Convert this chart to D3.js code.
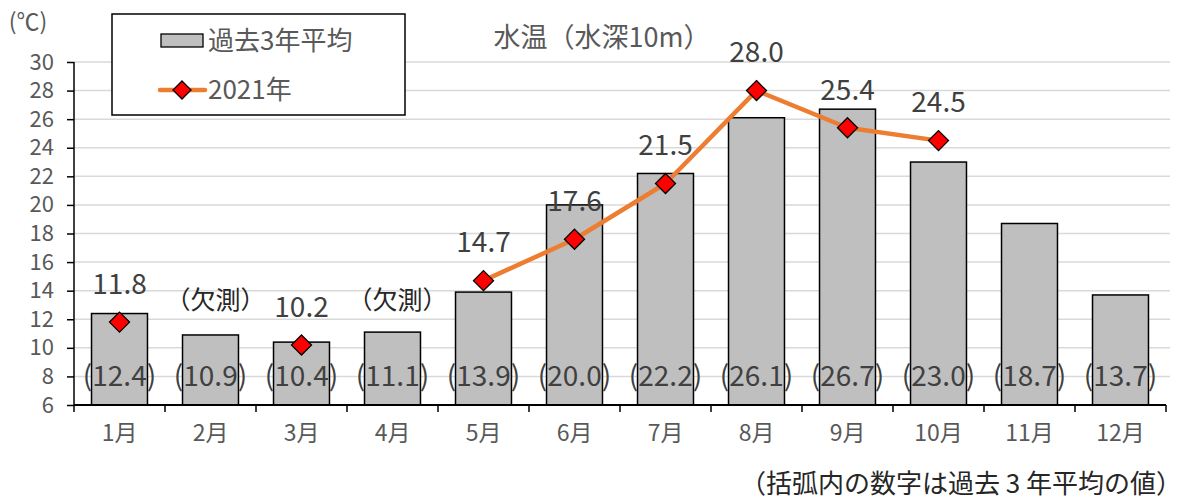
<!DOCTYPE html>
<html><head><meta charset="utf-8">
<script src="https://cdn.jsdelivr.net/npm/d3@7"></script>
<style>
body{margin:0;background:#fff;}
text{font-family:"Noto Sans CJK JP","Noto Sans",sans-serif;}
</style></head>
<body>
<svg id="c" width="1188" height="501"></svg>
<script>
const months = ["1月","2月","3月","4月","5月","6月","7月","8月","9月","10月","11月","12月"];
const avg3yr = [12.4,10.9,10.4,11.1,13.9,20.0,22.2,26.1,26.7,23.0,18.7,13.7];
const temp2021 = [11.8,null,10.2,null,14.7,17.6,21.5,28.0,25.4,24.5,null,null];
const missingLabel = [false,true,false,true,false,false,false,false,false,false,false,false];
const yTicks = [6,8,10,12,14,16,18,20,22,24,26,28,30];
const seriesNames = ["過去3年平均","2021年"];

const svg = d3.select("#c");
const x = d3.scaleBand().domain(months).range([74,1166]).paddingInner(0.385).paddingOuter(0.1925);
const y = d3.scaleLinear().domain([6,30]).range([405,62]);
const gray = "#595959";

// gridlines
svg.append("g").selectAll("line").data(yTicks.filter(d=>d>6)).join("line")
  .attr("x1",74).attr("x2",1170).attr("y1",d=>y(d)).attr("y2",d=>y(d))
  .attr("stroke","#d9d9d9").attr("stroke-width",1.5);

// bars
svg.append("g").selectAll("rect").data(avg3yr).join("rect")
  .attr("x",(d,i)=>x(months[i])).attr("width",x.bandwidth())
  .attr("y",d=>y(d)).attr("height",d=>y(6)-y(d))
  .attr("fill","#bfbfbf").attr("stroke","#000").attr("stroke-width",1.5);

// bar value labels
svg.append("g").selectAll("text").data(avg3yr).join("text")
  .attr("x",(d,i)=>x(months[i])+x.bandwidth()/2).attr("y",y(8))
  .attr("dy","0.35em").attr("text-anchor","middle")
  .attr("font-size",28).attr("fill","#404040")
  .text(d=>"("+d.toFixed(1)+")");

// y axis
const yAxis = d3.axisLeft(y).tickValues(yTicks).tickSize(7).tickPadding(13).tickFormat(d3.format("d"));
const ya = svg.append("g").attr("transform","translate(74,0)").call(yAxis);
ya.selectAll("text").attr("font-size",22).attr("fill",gray).attr("font-family","'DejaVu Sans',sans-serif");
ya.selectAll("line").attr("stroke","#000").attr("stroke-width",1.5);
ya.select(".domain").attr("stroke","#000").attr("stroke-width",1.5).attr("d","M0,62V405");

// x axis
const xa = svg.append("g").attr("transform","translate(0,405)")
  .call(d3.axisBottom(x).tickSize(0).tickPadding(20));
xa.select(".domain").attr("stroke","#000").attr("stroke-width",2).attr("d","M74,0H1166");
xa.selectAll("text").attr("font-size",23).attr("fill",gray).attr("font-family","'Noto Sans CJK JP',sans-serif");
// boundary ticks
const bounds = months.map(m=>x(m)-x.step()*x.paddingInner()/2).concat([1166]);
xa.append("g").selectAll("line").data(bounds).join("line")
  .attr("x1",d=>d).attr("x2",d=>d).attr("y1",0).attr("y2",7)
  .attr("stroke","#000").attr("stroke-width",1.5);

// line
const cx = (i)=>x(months[i])+x.bandwidth()/2;
const lineGen = d3.line().defined(d=>d!=null)
  .x((d,i)=>cx(i)).y(d=>y(d));
svg.append("path").datum(temp2021).attr("d",lineGen)
  .attr("fill","none").attr("stroke","#ed7d31").attr("stroke-width",4.5)
  .attr("stroke-linejoin","round").attr("stroke-linecap","round");

// markers
const diamond = (cxv,cyv,r)=>`M${cxv},${cyv-r}L${cxv+r},${cyv}L${cxv},${cyv+r}L${cxv-r},${cyv}Z`;
const pts = temp2021.map((v,i)=>({v,i})).filter(d=>d.v!=null);
svg.append("g").selectAll("path").data(pts).join("path")
  .attr("d",d=>diamond(cx(d.i),y(d.v),10))
  .attr("fill","#ff0000").attr("stroke","#000").attr("stroke-width",1.3);

// point labels
svg.append("g").selectAll("text").data(pts).join("text")
  .attr("x",d=>cx(d.i)).attr("y",d=>y(d.v)-38).attr("dy","0.35em")
  .attr("text-anchor","middle").attr("font-size",28).attr("fill","#404040")
  .text(d=>d.v.toFixed(1));

// missing labels
svg.append("g").selectAll("text").data(months.filter((m,i)=>missingLabel[i])).join("text")
  .attr("x",d=>x(d)+x.bandwidth()/2+5).attr("y",300).attr("dy","0.35em")
  .attr("text-anchor","middle").attr("font-size",25).attr("fill","#262626")
  .text("（欠測）");

// title
svg.append("text").attr("x",602).attr("y",38).attr("dy","0.35em").attr("text-anchor","middle")
  .attr("font-size",27).attr("fill",gray).text("水温（水深10m）");
// unit
svg.append("text").attr("x",28).attr("y",22).attr("dy","0.35em").attr("text-anchor","middle")
  .attr("font-size",23).attr("fill",gray).text("(℃)");

// legend
const lg = svg.append("g");
lg.append("rect").attr("x",112).attr("y",14).attr("width",293).attr("height",101)
  .attr("fill","#fff").attr("stroke","#000").attr("stroke-width",1.5);
lg.append("rect").attr("x",161).attr("y",34).attr("width",42).attr("height",13)
  .attr("fill","#bfbfbf").attr("stroke","#000").attr("stroke-width",1.3);
lg.append("text").attr("x",208).attr("y",41).attr("dy","0.35em").attr("font-size",26)
  .attr("fill",gray).text(seriesNames[0]);
lg.append("line").attr("x1",160).attr("x2",205).attr("y1",90).attr("y2",90)
  .attr("stroke","#ed7d31").attr("stroke-width",4.5).attr("stroke-linecap","round");
lg.append("path").attr("d",diamond(182,90,9)).attr("fill","#ff0000").attr("stroke","#000").attr("stroke-width",1.3);
lg.append("text").attr("x",208).attr("y",90).attr("dy","0.35em").attr("font-size",26)
  .attr("fill",gray).text(seriesNames[1]);

// footnote
svg.append("text").attr("x",1182).attr("y",484).attr("dy","0.35em").attr("text-anchor","end")
  .attr("font-size",26).attr("fill","#262626").text("（括弧内の数字は過去 3 年平均の値）");
</script>
</body></html>
